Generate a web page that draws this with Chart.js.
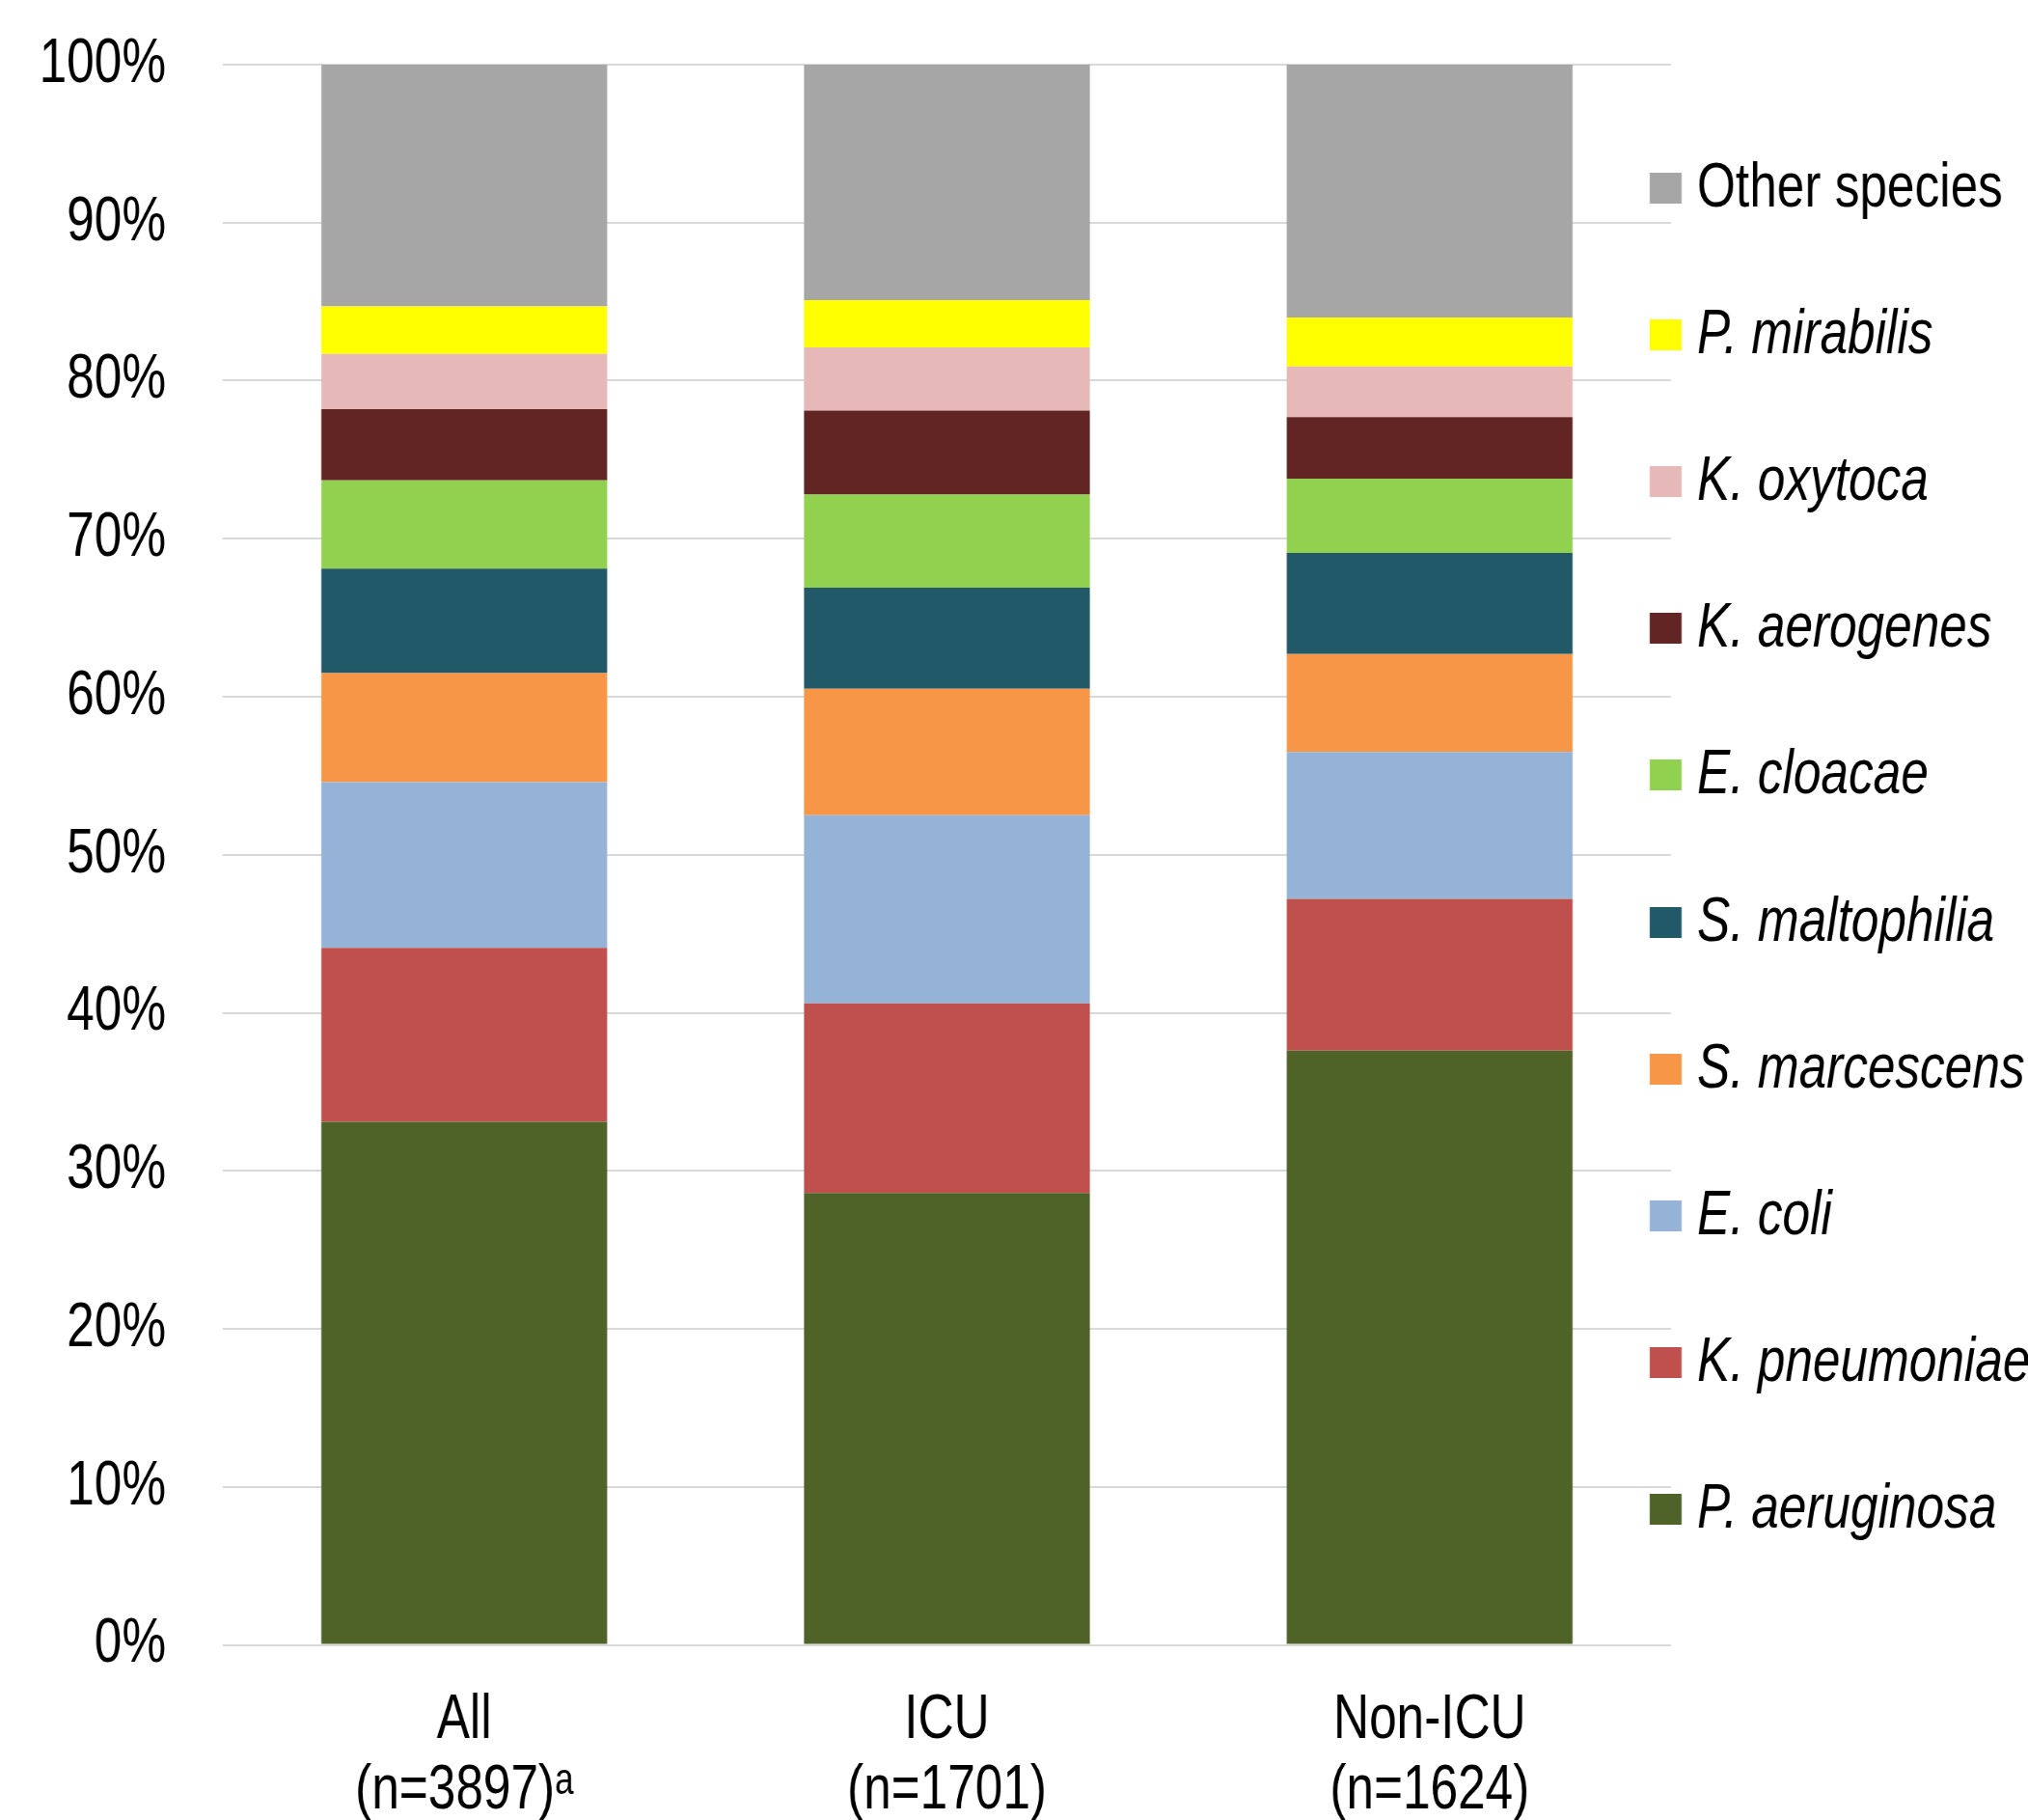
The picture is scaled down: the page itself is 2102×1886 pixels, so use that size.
<!DOCTYPE html>
<html>
<head>
<meta charset="utf-8">
<title>Species distribution by setting</title>
<script src="https://cdn.jsdelivr.net/npm/chart.js@4/dist/chart.umd.min.js"></script>
<style>
  html, body { margin: 0; padding: 0; background: #ffffff; }
  #wrap { width: 2102px; height: 1886px; overflow: hidden; }
  /* the drawing buffer is wider than the displayed box, giving a condensed look */
  #chart { display: block; width: 2102px; height: 1886px; }
</style>
</head>
<body>
<div id="wrap"><canvas id="chart" width="2661" height="1886" style="width:2102px;height:1886px"></canvas></div>
<script>
// Groups on the x axis and their sample sizes
const categories = ['All', 'ICU', 'Non-ICU'];
const sampleSizes = ['(n=3897)', '(n=1701)', '(n=1624)'];
const footnoteMarks = ['\u1D43', '', ''];

// Species, listed from the bottom of each stack to the top
const species = [
  'P. aeruginosa', 'K. pneumoniae', 'E. coli', 'S. marcescens', 'S. maltophilia',
  'E. cloacae', 'K. aerogenes', 'K. oxytoca', 'P. mirabilis', 'Other species'
];

// Share of isolates (%) for All, ICU, Non-ICU
const pAeruginosa  = [33.1, 28.6, 37.6];
const kPneumoniae  = [11.0, 12.0, 9.6];
const eColi        = [10.5, 11.9, 9.3];
const sMarcescens  = [6.9, 8.0, 6.2];
const sMaltophilia = [6.6, 6.4, 6.4];
const eCloacae     = [5.6, 5.9, 4.7];
const kAerogenes   = [4.5, 5.3, 3.9];
const kOxytoca     = [3.5, 4.0, 3.2];
const pMirabilis   = [3.0, 3.0, 3.1];
const otherSpecies = [15.3, 14.9, 16.0];

const seriesValues = [pAeruginosa, kPneumoniae, eColi, sMarcescens, sMaltophilia,
                      eCloacae, kAerogenes, kOxytoca, pMirabilis, otherSpecies];

const seriesColors = ['#4f6228', '#c0504d', '#95b3d7', '#f79646', '#215968',
                      '#92d050', '#632523', '#e6b8b7', '#ffff00', '#a6a6a6'];

// Y axis tick values (percent)
const yTicks = [0, 10, 20, 30, 40, 50, 60, 70, 80, 90, 100];

const FONT = "'Liberation Sans', Arial, sans-serif";
const FONT_SIZE = 65;
Chart.defaults.font.family = FONT;
Chart.defaults.color = '#000000';

const datasets = species.map((name, i) => ({
  label: name,
  data: seriesValues[i],
  backgroundColor: seriesColors[i],
  borderWidth: 0,
  barPercentage: 0.592,
  categoryPercentage: 1.0
}));

// Legend drawn at the right, top entry = top of stack, species names in italics
const sideLegend = {
  id: 'sideLegend',
  afterDraw(chart, args, opts) {
    const ctx = chart.ctx;
    const items = chart.data.datasets.map(ds => ({ text: ds.label, color: ds.backgroundColor })).reverse();
    ctx.save();
    ctx.textBaseline = 'middle';
    ctx.textAlign = 'left';
    items.forEach((it, k) => {
      const cy = opts.firstY + k * opts.step;
      ctx.fillStyle = it.color;
      ctx.fillRect(opts.x, Math.round(cy - opts.boxH / 2), opts.boxW, opts.boxH);
      const upright = it.text === 'Other species';
      ctx.font = (upright ? '' : 'italic ') + opts.fontSize + 'px ' + FONT;
      ctx.fillStyle = '#000000';
      ctx.fillText(it.text, opts.x + opts.boxW + opts.gap, cy + 1);
    });
    ctx.restore();
  }
};

new Chart(document.getElementById('chart'), {
  type: 'bar',
  data: {
    labels: categories.map((c, i) => [c, sampleSizes[i] + footnoteMarks[i]]),
    datasets
  },
  options: {
    responsive: false,
    animation: false,
    layout: { padding: { top: 67, right: 468.4, bottom: 0, left: 0 } },
    plugins: {
      legend: { display: false },
      tooltip: { enabled: false },
      sideLegend: { x: 2164.7, firstY: 195, step: 152.1, boxW: 41.8, boxH: 32, gap: 20.3, fontSize: FONT_SIZE }
    },
    scales: {
      x: {
        stacked: true,
        grid: { display: false, drawTicks: false },
        border: { display: false },
        ticks: {
          font: { size: FONT_SIZE, lineHeight: 1.123 },
          color: '#000000',
          padding: 42,
          maxRotation: 0,
          autoSkip: false
        },
        afterFit(scale) { scale.height = 181.5; }
      },
      y: {
        stacked: true,
        min: 0,
        max: 100,
        afterBuildTicks(scale) { scale.ticks = yTicks.map(v => ({ value: v })); },
        grid: { color: '#d9d9d9', lineWidth: 2, drawTicks: false },
        border: { display: false },
        ticks: {
          font: { size: FONT_SIZE },
          color: '#000000',
          padding: 74.7,
          callback: v => v + '%'
        },
        afterFit(scale) {
          scale.width = 292.4;
          scale.paddingTop = 0;
          scale.paddingBottom = 0;
        }
      }
    }
  },
  plugins: [sideLegend]
});
</script>
</body>
</html>
